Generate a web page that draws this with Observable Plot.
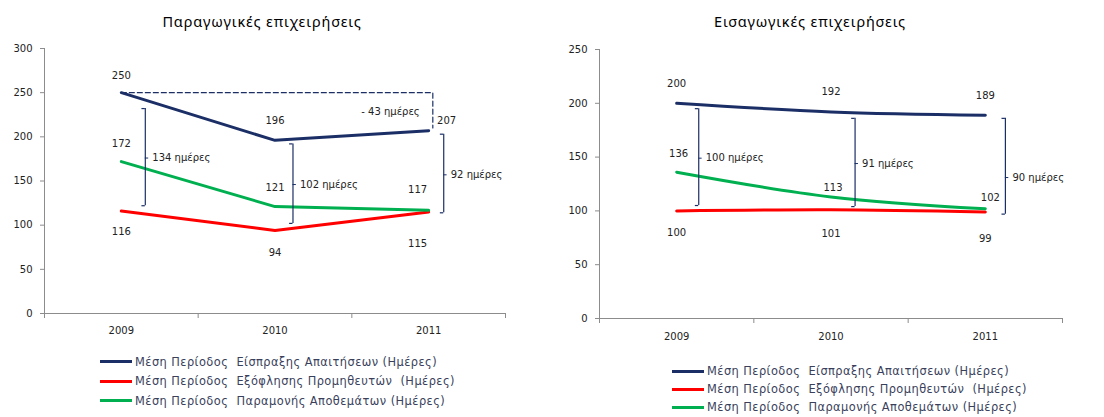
<!DOCTYPE html>
<html><head><meta charset="utf-8">
<script src="https://cdn.jsdelivr.net/npm/d3@7"></script>
<script src="https://cdn.jsdelivr.net/npm/@observablehq/plot@0.6"></script>
<style>
body{margin:0;background:#fff;}
#root{position:relative;width:1104px;height:417px;overflow:hidden;font-family:"DejaVu Sans",sans-serif;background:#fff;}
.panel{position:absolute;top:40px;}
.panel svg{overflow:visible;}
.title{position:absolute;top:11px;font-family:"Noto Sans",sans-serif;font-size:14.5px;letter-spacing:0.85px;color:#000;transform:translateX(-50%);white-space:nowrap;}
.legend{position:absolute;font-size:11.4px;letter-spacing:0.45px;color:#3a3f5c;}
.row{display:flex;align-items:center;height:19.5px;white-space:pre;}
.legend.tight .row{height:18px;}
.sw{width:32px;height:3px;margin-right:3px;flex:none;}
</style></head>
<body><div id="root"></div>
<script>
// ---- data ----
const years = [2009, 2010, 2011];
const seriesNames = [
  "Μέση Περίοδος  Είσπραξης Απαιτήσεων (Ημέρες)",
  "Μέση Περίοδος  Εξόφλησης Προμηθευτών  (Ημέρες)",
  "Μέση Περίοδος  Παραμονής Αποθεμάτων (Ημέρες)"
];
const seriesColors = ["#1b2f66", "#ff0000", "#00b050"];

const prodTitle = "Παραγωγικές επιχειρήσεις";
const prodReceivables = [250, 196, 207];
const prodPayables = [116, 94, 115];
const prodInventory = [172, 121, 117];
const prodGapText = ["134 ημέρες", "102 ημέρες", "92 ημέρες"];
const prodGapLow = [122, 102, 114];
const prodGapHigh = [232, 192, 203];
const prodGapMid = [176, 146, 157];
const prodChangeText = "- 43 ημέρες";
const prodYTicks = [0, 50, 100, 150, 200, 250, 300];

const impTitle = "Εισαγωγικές επιχειρήσεις";
const impReceivables = [200, 192, 189];
const impPayables = [100, 101, 99];
const impInventory = [136, 113, 102];
const impGapText = ["100 ημέρες", "91 ημέρες", "90 ημέρες"];
const impGapLow = [105, 104, 97];
const impGapHigh = [195, 186, 186];
const impGapMid = [149, 144, 131];
const impYTicks = [0, 50, 100, 150, 200, 250];

// ---- build ----
const NAVY = seriesColors[0];
const FONT = "DejaVu Sans";

function rowsOf(series) {
  const out = [];
  series.forEach((vals, si) => vals.forEach((v, i) => out.push({year: years[i], value: v, series: seriesNames[si], si, i})));
  return out;
}

function makePanel(cfg) {
  const rows = rowsOf(cfg.series);
  const ymax = cfg.yTicks[cfg.yTicks.length - 1];
  const gaps = years.map((y, i) => ({
    bx: y + cfg.bracketOffset[i], lo: cfg.gapLow[i], hi: cfg.gapHigh[i], mid: cfg.gapMid[i], text: cfg.gapText[i]
  }));
  const hook = 0.022;
  const marks = [
    Plot.ruleY([0], {stroke: "#8c8c8c"}),
    Plot.ruleX([2008.5], {y1: 0, y2: ymax, stroke: "#8c8c8c"}),
    Plot.axisY({ticks: cfg.yTicks, tickSize: 4, tickPadding: 8, stroke: "#8c8c8c", fill: "#222", fontSize: 10, fontFamily: FONT, label: null}),
    Plot.axisX({ticks: years, tickFormat: d => String(d), tickSize: 0, tickPadding: cfg.xPad, fill: "#222", fontSize: 10, fontFamily: FONT, label: null}),
    Plot.axisX({ticks: [2008.5, 2009.5, 2010.5, 2011.5], tickFormat: () => "", tickSize: 5, stroke: "#8c8c8c", label: null}),
    Plot.line(rows, {x: "year", y: "value", z: "series", stroke: "series", strokeWidth: 3, curve: cfg.curve}),
    // brackets
    Plot.ruleX(gaps, {x: "bx", y1: "lo", y2: "hi", stroke: NAVY, strokeWidth: 1.2}),
    Plot.ruleY(gaps, {y: "hi", x1: d => d.bx - hook, x2: "bx", stroke: NAVY, strokeWidth: 1.2}),
    Plot.ruleY(gaps, {y: "lo", x1: d => d.bx - hook, x2: "bx", stroke: NAVY, strokeWidth: 1.2}),
    Plot.ruleY(gaps, {y: "mid", x1: "bx", x2: d => d.bx + hook, stroke: NAVY, strokeWidth: 1}),
    Plot.text(gaps, {x: "bx", y: "mid", text: "text", dx: 7, textAnchor: "start", fontSize: 10, fontFamily: FONT, fill: "#222"})
  ];
  rows.forEach(d => {
    const [dx, dy] = cfg.labelOffsets[d.si][d.i];
    marks.push(Plot.text([d], {x: "year", y: "value", text: d => String(d.value), dx, dy, fontSize: 10, fontFamily: FONT, fill: "#222"}));
  });
  if (cfg.extra) marks.push(...cfg.extra);
  return Plot.plot({
    width: cfg.width, height: 305,
    marginLeft: cfg.ml, marginRight: cfg.mr, marginTop: cfg.mt, marginBottom: cfg.mb,
    x: {type: "linear", domain: [2008.5, 2011.5], axis: null},
    y: {domain: [0, ymax], axis: null},
    color: {domain: seriesNames, range: seriesColors},
    style: {background: "transparent", fontFamily: FONT, overflow: "visible"},
    marks
  });
}

const changePath = [
  {x: years[0], y: prodReceivables[0]},
  {x: years[2] + 0.027, y: prodReceivables[0]},
  {x: years[2] + 0.027, y: prodReceivables[2] + 3}
];

const left = makePanel({
  width: 550, ml: 44, mr: 45, mt: 8, mb: 32, xPad: 13, curve: "linear",
  series: [prodReceivables, prodPayables, prodInventory],
  yTicks: prodYTicks,
  gapText: prodGapText, gapLow: prodGapLow, gapHigh: prodGapHigh, gapMid: prodGapMid,
  bracketOffset: [0.156, 0.117, 0.098],
  labelOffsets: [
    [[0, -17], [0, -20], [18, -10]],
    [[0, 21], [0, 22], [-11, 32]],
    [[0, -18], [0, -19], [-11, -20]]
  ],
  extra: [
    Plot.line(changePath, {x: "x", y: "y", stroke: NAVY, strokeWidth: 1.2, strokeDasharray: "5,3"}),
    Plot.text([{x: years[2], y: (prodReceivables[0] + prodReceivables[2]) / 2}], {x: "x", y: "y", text: () => prodChangeText, dx: -9, textAnchor: "end", fontSize: 10, fontFamily: FONT, fill: "#222"})
  ]
});

const right = makePanel({
  width: 554, ml: 49, mr: 42, mt: 9, mb: 27, xPad: 14, curve: "catmull-rom",
  series: [impReceivables, impPayables, impInventory],
  yTicks: impYTicks,
  gapText: impGapText, gapLow: impGapLow, gapHigh: impGapHigh, gapMid: impGapMid,
  bracketOffset: [0.143, 0.156, 0.13],
  labelOffsets: [
    [[0, -20], [0, -20], [0, -19]],
    [[0, 22], [0, 24], [0, 27]],
    [[2, -18], [2, -9], [5, -11]]
  ]
});

const root = document.getElementById("root");
function addPanel(svg, x) {
  const div = document.createElement("div");
  div.className = "panel";
  div.style.left = x + "px";
  div.appendChild(svg);
  root.appendChild(div);
}
addPanel(left, 0);
addPanel(right, 550);

function addTitle(text, cx) {
  const t = document.createElement("div");
  t.className = "title";
  t.style.left = cx + "px";
  t.textContent = text;
  root.appendChild(t);
}
addTitle(prodTitle, 262);
addTitle(impTitle, 810);

function addLegend(x, top, tight) {
  const lg = document.createElement("div");
  lg.className = "legend" + (tight ? " tight" : "");
  lg.style.left = x + "px";
  lg.style.top = top + "px";
  seriesNames.forEach((n, i) => {
    const r = document.createElement("div");
    r.className = "row";
    const sw = document.createElement("span");
    sw.className = "sw";
    sw.style.background = seriesColors[i];
    const tx = document.createElement("span");
    tx.textContent = n;
    r.appendChild(sw); r.appendChild(tx);
    lg.appendChild(r);
  });
  root.appendChild(lg);
}
addLegend(100, 352, false);
addLegend(672, 362, true);
</script></body></html>
